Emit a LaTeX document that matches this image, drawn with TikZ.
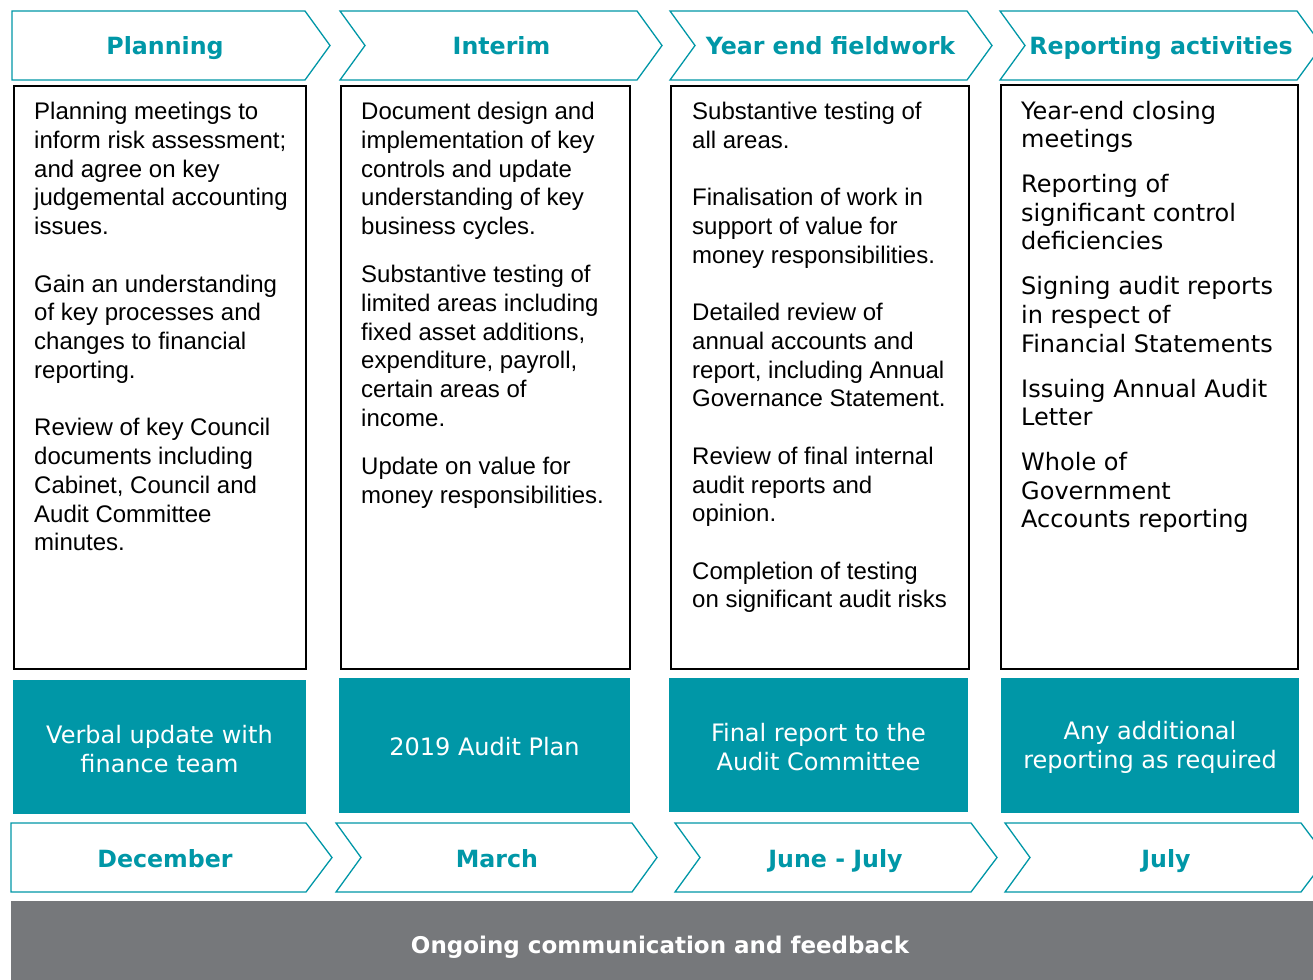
\documentclass[tikz,border=0pt]{standalone}
\usepackage{fontspec}
\setmainfont{Liberation Sans}
\newfontfamily\verd{DejaVu Sans}
\definecolor{teal1}{HTML}{0097A7}
\definecolor{grey1}{HTML}{76787B}
\begin{document}
\begin{tikzpicture}[x=1pt,y=-1pt,
  chev/.style={draw=teal1, line width=1.3pt, fill=white, line join=miter},
  whitebox/.style={draw=black, line width=2pt, fill=white, inner sep=0pt},
  tealbox/.style={fill=teal1, inner sep=0pt},
  tealtext/.style={inner sep=0pt, text=white, align=center, font=\verd\fontsize{24}{29.4}\selectfont},
  head/.style={text=teal1, font=\verd\bfseries\fontsize{23.7}{28}\selectfont, anchor=base, inner sep=0pt},
  body/.style={anchor=north west, inner sep=0pt, align=left, font=\fontsize{24}{28.75}\selectfont},
  bodyv/.style={anchor=north west, inner sep=0pt, align=left, font=\verd\fontsize{24}{28.6}\selectfont},
]
\useasboundingbox (0,0) rectangle (1313,979);

% top chevrons
\draw[chev] (12,11) -- (305,11) -- (330,45.5) -- (305,80) -- (12,80) -- cycle;
\draw[chev] (340,11) -- (637,11) -- (662,45.5) -- (637,80) -- (340,80) -- (365,45.5) -- cycle;
\draw[chev] (670,11) -- (967,11) -- (992,45.5) -- (967,80) -- (670,80) -- (695,45.5) -- cycle;
\draw[chev] (1000,11) -- (1297,11) -- (1322,45.5) -- (1297,80) -- (1000,80) -- (1025,45.5) -- cycle;
\node[head] (h1) at (165,55) {Planning};
\node[head] (h2) at (501.5,55) {Interim};
\node[head] (h3) at (830.5,55) {Year end fieldwork};
\node[head] (h4) at (1161,55) {Reporting activities};

% white boxes
\node[whitebox, minimum width=292pt, minimum height=583pt] (w1) at (160,377.5) {};
\node[whitebox, minimum width=289pt, minimum height=583pt] (w2) at (485.5,377.5) {};
\node[whitebox, minimum width=298pt, minimum height=583pt] (w3) at (820,377.5) {};
\node[whitebox, minimum width=297pt, minimum height=583pt] (w4) at (1149.5,377) {};

\node[body] (b1) at (34,99.4) {\strut Planning meetings to\\inform risk assessment;\\and agree on key\\judgemental accounting\\issues.\\[28.75pt]Gain an understanding\\of key processes and\\changes to financial\\reporting.\\[28.75pt]Review of key Council\\documents including\\Cabinet, Council and\\Audit Committee\\minutes.};
\node[body] (b2) at (361,99.4) {\strut Document design and\\implementation of key\\controls and update\\understanding of key\\business cycles.\\[19.25pt]Substantive testing of\\limited areas including\\fixed asset additions,\\expenditure, payroll,\\certain areas of\\income.\\[19.25pt]Update on value for\\money responsibilities.};
\node[body] (b3) at (692,99.4) {\strut Substantive testing of\\all areas.\\[28.6pt]Finalisation of work in\\support of value for\\money responsibilities.\\[28.6pt]Detailed review of\\annual accounts and\\report, including Annual\\Governance Statement.\\[28.6pt]Review of final internal\\audit reports and\\opinion.\\[28.6pt]Completion of testing\\on significant audit risks};
\node[bodyv] (b4) at (1021,98.9) {\strut Year-end closing\\meetings\\[16.4pt]Reporting of\\significant control\\deficiencies\\[16.4pt]Signing audit reports\\in respect of\\Financial Statements\\[16.4pt]Issuing Annual Audit\\Letter\\[16.4pt]Whole of\\Government\\Accounts reporting};

% teal boxes
\node[tealbox, minimum width=293pt, minimum height=134pt] (t1) at (159.5,747) {};
\node[tealbox, minimum width=291pt, minimum height=135.5pt] (t2) at (484.5,745.25) {};
\node[tealbox, minimum width=299pt, minimum height=134pt] (t3) at (818.5,745) {};
\node[tealbox, minimum width=298pt, minimum height=135pt] (t4) at (1150,745.5) {};
\node[tealtext] (t1l) at ([yshift=-2pt]t1.center) {Verbal update with\\finance team};
\node[tealtext] (t2l) at ([yshift=-1pt]t2.center) {2019 Audit Plan};
\node[tealtext] (t3l) at ([yshift=-2pt]t3.center) {Final report to the\\Audit Committee};
\node[tealtext] (t4l) at ([yshift=-2pt]t4.center) {Any additional\\reporting as required};

% bottom chevrons
\draw[chev] (11,823) -- (306,823) -- (332,857.5) -- (306,892) -- (11,892) -- cycle;
\draw[chev] (336,823) -- (632,823) -- (657,857.5) -- (632,892) -- (336,892) -- (361,857.5) -- cycle;
\draw[chev] (675,823) -- (971,823) -- (997,857.5) -- (971,892) -- (675,892) -- (700,857.5) -- cycle;
\draw[chev] (1005,823) -- (1301,823) -- (1327,857.5) -- (1301,892) -- (1005,892) -- (1030,857.5) -- cycle;
\node[head] (m1) at (165,867.3) {December};
\node[head] (m2) at (497,867.3) {March};
\node[head] (m3) at (835.5,867.3) {June - July};
\node[head] (m4) at (1166,867.3) {July};

% grey bar
\fill[grey1] (11,901) rectangle (1330,990);
\node[anchor=base, inner sep=0pt, text=white, font=\verd\bfseries\fontsize{23}{27}\selectfont] (g) at (660,953) {Ongoing communication and feedback};
\end{tikzpicture}
\end{document}
